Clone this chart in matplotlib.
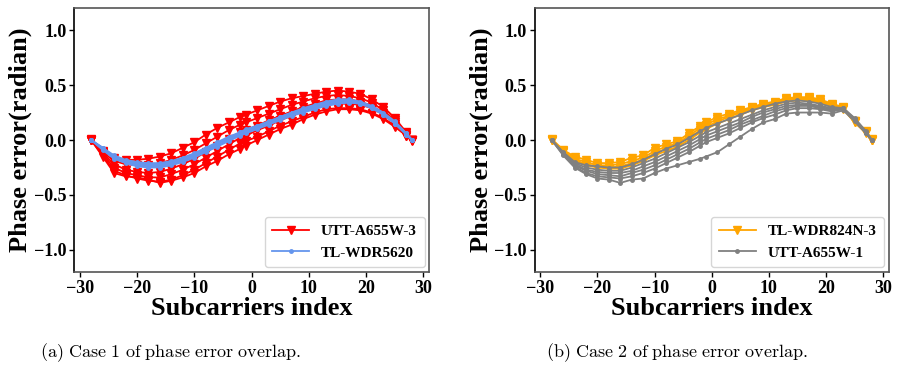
import matplotlib
matplotlib.use("Agg")
import matplotlib.pyplot as plt

plt.rcParams['font.family'] = ['Liberation Serif', 'DejaVu Serif']
plt.rcParams['font.weight'] = 'bold'
plt.rcParams['mathtext.fontset'] = 'cm'

# subcarrier indices (802.11n, 30 grouped subcarriers)
subcarriers = [-28, -26, -24, -22, -20, -18, -16, -14, -12, -10, -8, -6, -4, -2, -1,
               1, 3, 5, 7, 9, 11, 13, 15, 17, 19, 21, 23, 25, 27, 28]

# case 1: UTT-A655W-3 (red)
utt3_a = [0.01, -0.10, -0.16, -0.18, -0.18, -0.17, -0.15, -0.12, -0.07, -0.02, 0.05, 0.11, 0.16, 0.21, 0.23,
          0.27, 0.31, 0.35, 0.38, 0.40, 0.42, 0.44, 0.45, 0.44, 0.42, 0.37, 0.30, 0.20, 0.07, 0.00]
utt3_b = [0.00, -0.11, -0.19, -0.22, -0.23, -0.23, -0.21, -0.18, -0.14, -0.09, -0.03, 0.03, 0.09, 0.14, 0.16,
          0.20, 0.24, 0.28, 0.32, 0.35, 0.38, 0.40, 0.41, 0.40, 0.38, 0.34, 0.27, 0.18, 0.06, 0.00]
utt3_c = [0.00, -0.12, -0.22, -0.27, -0.29, -0.30, -0.29, -0.26, -0.22, -0.17, -0.11, -0.05, 0.01, 0.07, 0.09,
          0.13, 0.18, 0.22, 0.26, 0.30, 0.33, 0.36, 0.37, 0.37, 0.35, 0.31, 0.25, 0.16, 0.05, 0.00]
utt3_d = [0.00, -0.13, -0.25, -0.30, -0.32, -0.34, -0.34, -0.31, -0.27, -0.22, -0.16, -0.10, -0.04, 0.02, 0.04,
          0.09, 0.13, 0.18, 0.22, 0.26, 0.29, 0.32, 0.33, 0.33, 0.32, 0.29, 0.23, 0.15, 0.05, 0.00]
utt3_e = [0.00, -0.14, -0.28, -0.32, -0.35, -0.37, -0.38, -0.36, -0.32, -0.27, -0.21, -0.15, -0.09, -0.03, -0.01,
          0.03, 0.08, 0.13, 0.17, 0.21, 0.25, 0.28, 0.29, 0.29, 0.28, 0.25, 0.20, 0.13, 0.04, 0.00]
utt3_f = [0.00, -0.15, -0.30, -0.33, -0.34, -0.36, -0.39, -0.37, -0.34, -0.30, -0.24, -0.19, -0.13, -0.08, -0.05,
          0.00, 0.05, 0.10, 0.14, 0.19, 0.23, 0.26, 0.28, 0.28, 0.27, 0.24, 0.19, 0.12, 0.04, -0.01]
utt3_runs = [utt3_a, utt3_b, utt3_c, utt3_d, utt3_e, utt3_f]

# case 1: TL-WDR5620 (blue)
wdr5620_a = [0.00, -0.07, -0.14, -0.18, -0.20, -0.21, -0.21, -0.19, -0.16, -0.12, -0.07, -0.02, 0.03, 0.07, 0.10,
             0.13, 0.17, 0.21, 0.25, 0.28, 0.31, 0.34, 0.36, 0.36, 0.34, 0.30, 0.24, 0.16, 0.06, 0.00]
wdr5620_b = [0.00, -0.08, -0.15, -0.19, -0.22, -0.23, -0.23, -0.21, -0.18, -0.14, -0.09, -0.04, 0.01, 0.06, 0.08,
             0.12, 0.16, 0.20, 0.24, 0.27, 0.30, 0.33, 0.35, 0.35, 0.34, 0.30, 0.24, 0.16, 0.06, 0.00]
wdr5620_c = [0.00, -0.08, -0.16, -0.20, -0.23, -0.24, -0.24, -0.22, -0.19, -0.15, -0.10, -0.05, 0.00, 0.05, 0.07,
             0.11, 0.15, 0.19, 0.23, 0.26, 0.29, 0.32, 0.34, 0.35, 0.33, 0.29, 0.23, 0.15, 0.05, 0.00]
wdr5620_d = [0.00, -0.09, -0.17, -0.21, -0.24, -0.25, -0.25, -0.23, -0.20, -0.16, -0.11, -0.06, -0.01, 0.04, 0.06,
             0.10, 0.14, 0.18, 0.22, 0.25, 0.28, 0.31, 0.33, 0.34, 0.33, 0.29, 0.23, 0.15, 0.05, 0.00]
wdr5620_e = [0.00, -0.07, -0.15, -0.19, -0.21, -0.22, -0.22, -0.20, -0.17, -0.13, -0.08, -0.03, 0.02, 0.07, 0.09,
             0.13, 0.17, 0.21, 0.25, 0.29, 0.32, 0.35, 0.37, 0.37, 0.35, 0.31, 0.25, 0.17, 0.06, 0.00]
wdr5620_runs = [wdr5620_a, wdr5620_b, wdr5620_c, wdr5620_d, wdr5620_e]

# case 2: TL-WDR824N-3 (orange)
wdr824_a = [0.01, -0.09, -0.15, -0.18, -0.21, -0.21, -0.20, -0.16, -0.14, -0.07, -0.04, -0.01, 0.06, 0.13, 0.16,
            0.21, 0.24, 0.27, 0.30, 0.33, 0.35, 0.38, 0.39, 0.39, 0.37, 0.33, 0.30, 0.17, 0.08, 0.01]
wdr824_b = [0.00, -0.10, -0.17, -0.20, -0.23, -0.23, -0.22, -0.19, -0.16, -0.10, -0.06, -0.03, 0.04, 0.11, 0.14,
            0.19, 0.22, 0.26, 0.29, 0.32, 0.34, 0.37, 0.38, 0.38, 0.36, 0.32, 0.29, 0.17, 0.07, 0.00]
wdr824_c = [0.00, -0.10, -0.18, -0.22, -0.24, -0.25, -0.24, -0.21, -0.18, -0.12, -0.08, -0.04, 0.02, 0.09, 0.12,
            0.17, 0.21, 0.25, 0.28, 0.31, 0.33, 0.36, 0.37, 0.37, 0.35, 0.31, 0.29, 0.16, 0.07, 0.00]
wdr824_d = [0.00, -0.11, -0.19, -0.23, -0.25, -0.26, -0.26, -0.23, -0.19, -0.14, -0.10, -0.06, 0.00, 0.07, 0.10,
            0.15, 0.19, 0.23, 0.27, 0.30, 0.32, 0.35, 0.36, 0.36, 0.34, 0.30, 0.28, 0.16, 0.06, 0.00]
wdr824_runs = [wdr824_a, wdr824_b, wdr824_c, wdr824_d]

# case 2: UTT-A655W-1 (gray)
utt1_a = [0.00, -0.11, -0.20, -0.23, -0.24, -0.25, -0.25, -0.22, -0.18, -0.13, -0.08, -0.04, 0.02, 0.08, 0.11,
          0.15, 0.19, 0.23, 0.27, 0.30, 0.33, 0.35, 0.36, 0.35, 0.33, 0.30, 0.29, 0.20, 0.08, 0.00]
utt1_b = [0.00, -0.12, -0.21, -0.25, -0.27, -0.28, -0.28, -0.25, -0.21, -0.17, -0.12, -0.07, -0.02, 0.04, 0.07,
          0.11, 0.15, 0.19, 0.23, 0.27, 0.30, 0.33, 0.34, 0.33, 0.31, 0.29, 0.29, 0.19, 0.07, 0.00]
utt1_c = [0.00, -0.12, -0.22, -0.27, -0.29, -0.30, -0.30, -0.28, -0.24, -0.20, -0.15, -0.10, -0.05, 0.01, 0.04,
          0.08, 0.12, 0.16, 0.21, 0.25, 0.28, 0.31, 0.32, 0.32, 0.30, 0.28, 0.29, 0.19, 0.07, 0.00]
utt1_d = [0.00, -0.13, -0.23, -0.28, -0.31, -0.32, -0.33, -0.30, -0.27, -0.23, -0.18, -0.13, -0.08, -0.02, 0.01,
          0.05, 0.09, 0.14, 0.18, 0.22, 0.26, 0.29, 0.31, 0.31, 0.29, 0.27, 0.28, 0.18, 0.06, 0.00]
utt1_e = [0.00, -0.13, -0.24, -0.30, -0.33, -0.34, -0.35, -0.33, -0.30, -0.26, -0.21, -0.16, -0.11, -0.05, -0.02,
          0.02, 0.06, 0.11, 0.16, 0.20, 0.23, 0.27, 0.29, 0.29, 0.28, 0.26, 0.28, 0.18, 0.06, 0.00]
utt1_f = [0.00, -0.14, -0.25, -0.31, -0.35, -0.36, -0.39, -0.36, -0.35, -0.30, -0.26, -0.23, -0.20, -0.17, -0.15,
          -0.11, -0.04, 0.03, 0.10, 0.16, 0.19, 0.24, 0.25, 0.25, 0.25, 0.24, 0.27, 0.17, 0.06, 0.00]
utt1_runs = [utt1_a, utt1_b, utt1_c, utt1_d, utt1_e, utt1_f]

captions = [r'$\mathrm{(a)\ Case\ 1\ of\ phase\ error\ overlap.}$',
            r'$\mathrm{(b)\ Case\ 2\ of\ phase\ error\ overlap.}$']


def draw_runs(ax, runs, color, marker, ms, label):
    for i, run in enumerate(runs):
        ax.plot(subcarriers, run, color=color, marker=marker, markersize=ms,
                linewidth=1.3, label=label if i == 0 else None)


def style_axes(ax):
    ax.set_xlim(-31, 31)
    ax.set_ylim(-1.2, 1.2)
    ax.set_xticks([-30, -20, -10, 0, 10, 20, 30])
    ax.set_yticks([-1.0, -0.5, 0.0, 0.5, 1.0])
    ax.tick_params(labelsize=13, length=3.5, width=1.0, pad=2)
    for lab in ax.get_xticklabels() + ax.get_yticklabels():
        lab.set_fontweight('bold')
    for side in ['top', 'right', 'bottom']:
        ax.spines[side].set_color('#555555')
        ax.spines[side].set_linewidth(1.2)
    ax.spines['left'].set_color('black')
    ax.spines['left'].set_linewidth(1.2)
    ax.set_xlabel('Subcarriers index', fontsize=19, fontweight='bold', labelpad=0)
    ax.set_ylabel('Phase error(radian)', fontsize=19, fontweight='bold', labelpad=1)
    leg = ax.legend(loc='lower right', prop={'size': 11, 'weight': 'bold'},
                    handlelength=2.4, borderpad=0.5, borderaxespad=0.3)
    leg.get_frame().set_edgecolor('#cccccc')


fig = plt.figure(figsize=(8.97, 3.68), dpi=100)
ax1 = fig.add_axes([0.0825, 0.261, 0.396, 0.717])
ax2 = fig.add_axes([0.596, 0.261, 0.395, 0.717])

draw_runs(ax1, utt3_runs, 'red', 'v', 6, 'UTT-A655W-3')
draw_runs(ax1, wdr5620_runs, 'cornflowerblue', '.', 5, 'TL-WDR5620')
style_axes(ax1)

draw_runs(ax2, wdr824_runs, 'orange', 'v', 6, 'TL-WDR824N-3')
draw_runs(ax2, utt1_runs, 'gray', '.', 5, 'UTT-A655W-1')
style_axes(ax2)

fig.text(0.19, 0.043, captions[0], fontsize=13, ha='center', va='center')
fig.text(0.755, 0.043, captions[1], fontsize=13, ha='center', va='center')

fig.savefig('out.png', dpi=100)
